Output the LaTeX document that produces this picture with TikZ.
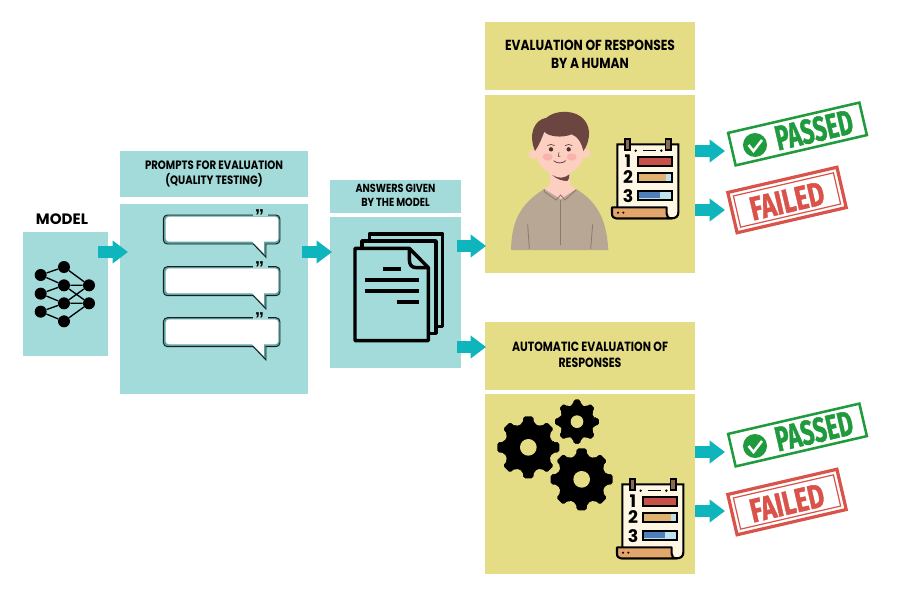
\documentclass[tikz,border=0pt]{standalone}
\usepackage{fontspec}
\usepackage{graphicx}
\setmainfont{Poppins}
\newfontfamily\stampfont{Fira Sans}[BoldFeatures={FakeBold=1.5}]
\newfontfamily\quotefont{Liberation Sans}
\usetikzlibrary{arrows.meta}
\definecolor{tealbox}{HTML}{A2DBD9}
\definecolor{tealdark}{HTML}{5FA3A3}
\definecolor{arrowteal}{HTML}{0FB5BD}
\definecolor{yelbox}{HTML}{E5DD85}
\definecolor{stampgreen}{HTML}{1F9A3C}
\definecolor{stampred}{HTML}{D9534A}
\definecolor{shirt}{HTML}{B7A794}
\definecolor{skin}{HTML}{FCCFC0}
\definecolor{cheek}{HTML}{F8B4AC}
\definecolor{hair}{HTML}{6B4540}
\definecolor{cream}{HTML}{FDF7E3}
\definecolor{clip}{HTML}{8A6A50}
\definecolor{rollbar}{HTML}{E2A56B}
\definecolor{barred}{HTML}{C8504B}
\definecolor{bartan}{HTML}{DFB36F}
\definecolor{barblue}{HTML}{4F7FB8}
\definecolor{barlight}{HTML}{BFE3EE}
\tikzset{
  tbox/.style={fill=tealbox,inner sep=0pt,align=center,font=\bfseries},
  ybox/.style={fill=yelbox,inner sep=0pt,align=center,font=\bfseries},
  blockarrow/.style={draw=arrowteal,line width=8.3pt,-{Triangle[length=11.5pt,width=16.5pt]},shorten >=0pt},
  netnode/.style={circle,fill=black,inner sep=0pt,minimum size=9pt},
  netedge/.style={line width=1pt,black},
  docline/.style={line width=2.4pt,black},
  stampbox/.style={draw,rotate=13,inner sep=0pt},
  stamptext/.style={rotate=13,font=\stampfont\bfseries,inner sep=0pt},
  digit/.style={font=\bfseries\fontsize{13}{13}\selectfont,inner sep=0pt},
}
\newcommand{\hdr}[2]{\resizebox{\dimexpr #1pt*3/4\relax}{!}{#2}}
\newcommand{\hdrr}[4]{\resizebox*{\dimexpr #1pt*3/4\relax}{\dimexpr #2pt*3/4\relax}{\begin{tabular}{@{}c@{}}#3\\#4\end{tabular}}}
\newcommand{\bubbleicon}[2]{%
  \begin{scope}[shift={(0,140+#1/3)},scale=1/3]
    \path[fill=tealdark,draw=black!85!tealbox,line width=0.7pt,rounded corners=3pt]
      (490,225) -- (840,225) -- (840,312) [sharp corners] -- (798,312) -- (798,352) -- (760,312) [rounded corners=3pt] -- (490,312) -- cycle;
    \path[fill=white,rounded corners=2.5pt]
      (497,230) -- (835,230) -- (835,305) [sharp corners] -- (792,305) -- (792,340) -- (757,305) [rounded corners=2.5pt] -- (497,305) -- cycle;
    \draw[tealbox,line width=1.5pt] (760,225) -- (805,225);
    \node[inner sep=0pt,font=\quotefont\bfseries\fontsize{14}{14}\selectfont] (#2) at (779,229) {”};
  \end{scope}}
\newcommand{\checklist}[3]{%
  \begin{scope}[shift={(#1,#2)},scale=1/3]
    \draw[fill=cream,line width=1.6pt] (382,148) -- (565,148) -- (565,352) .. controls (565,364) and (557,370) .. (545,370) -- (382,370) -- cycle;
    \draw[fill=clip,line width=1pt] (405,132) rectangle (420,165);
    \draw[fill=clip,line width=1pt] (527,132) rectangle (543,165);
    \draw[line width=1.1pt] (458,167) -- (497,167);
    \fill (437,167) circle (4); \fill (514,167) circle (4);
    \draw[fill=rollbar,line width=1.6pt,line join=round] (366,337) -- (530,337) -- (530,356) .. controls (530,365) and (535,370) .. (545,370) -- (378,370) .. controls (370,370) and (366,365) .. (366,355) -- cycle;
    \fill (384,353) circle (3.5); \fill (400,353) circle (3.5);
    \node[digit] (#3a) at (414,200) {1};
    \node[digit] (#3b) at (414,247) {2};
    \node[digit] (#3c) at (414,302) {3};
    \draw[fill=barred,line width=1.4pt] (443,185) rectangle (546,212);
    \draw[fill=barlight,line width=1.4pt] (443,234) rectangle (546,262);
    \fill[bartan] (447,238) rectangle (527,258);
    \draw[fill=barlight,line width=1.4pt] (443,287) rectangle (546,314);
    \fill[barblue] (447,291) rectangle (510,310);
  \end{scope}}
\newcommand{\gearicon}[4]{%
  \filldraw[fill=black,draw=yelbox,line width=1.2pt,rounded corners=1.5pt]
    ([shift={(#1,#2)}]-15:#3*0.78)
    foreach \a in {0,45,...,315} {
      -- ([shift={(#1,#2)}]\a-15:#3*0.78)
      -- ([shift={(#1,#2)}]\a-10:#3)
      -- ([shift={(#1,#2)}]\a+10:#3)
      -- ([shift={(#1,#2)}]\a+15:#3*0.78)
    } -- cycle;
  \fill[yelbox] (#1,#2) circle (#4);}
\newcommand{\stamppass}[2]{%
  \begin{scope}[shift={(0,#1)}]
    \node[stampbox,stampgreen,line width=1.9pt,minimum width=101pt,minimum height=25pt] (#2box) at (797.5,134) {};
    \fill[stampgreen] (755,145) circle (12);
    \draw[white,line width=1.9pt] (748.5,145) -- (753.5,151) -- (762,140);
    \node[stamptext,text=stampgreen] (#2txt) at (814,130) {\scalebox{0.66}[1]{\fontsize{26}{26}\selectfont PASSED}};
  \end{scope}}
\newcommand{\stampfail}[2]{%
  \begin{scope}[shift={(0,#1)}]
    \node[stampbox,stampred,line width=2.4pt,minimum width=84pt,minimum height=31pt] (#2box) at (787,200) {};
    \node[stampbox,stampred,line width=0.9pt,minimum width=77pt,minimum height=24pt] (#2in) at (787,200) {};
    \node[stamptext,text=stampred] (#2txt) at (787,201) {\scalebox{0.75}[1]{\fontsize{25}{25}\selectfont FAILED}};
  \end{scope}}
\begin{document}
\begin{tikzpicture}[x=0.75pt,y=-0.75pt]
\fill[white] (0,0) rectangle (899,614);
\useasboundingbox (0,0) rectangle (899,614);
% boxes
\node[tbox,minimum width=85*0.75pt,minimum height=124*0.75pt] (model) at (65.5,294) {};
\node[inner sep=0pt,font=\bfseries] (modeltxt) at (62,219.5) {\hdr{52}{MODEL}};
\node[tbox,minimum width=188*0.75pt,minimum height=46*0.75pt] (prompthdr) at (214,174) {\hdrr{138}{30}{PROMPTS FOR EVALUATION}{(QUALITY TESTING)}};
\node[tbox,minimum width=188*0.75pt,minimum height=190*0.75pt] (prompt) at (214,299) {};
\node[tbox,minimum width=131*0.75pt,minimum height=33*0.75pt] (anshdr) at (395.5,196.5) {\hdrr{80}{28}{ANSWERS GIVEN}{BY THE MODEL}};
\node[tbox,minimum width=131*0.75pt,minimum height=151*0.75pt] (ans) at (395.5,292.5) {};
\node[ybox,minimum width=210*0.75pt,minimum height=68*0.75pt] (humanhdr) at (590,56) {\hdrr{170}{35}{EVALUATION OF RESPONSES}{BY A HUMAN}};
\node[ybox,minimum width=210*0.75pt,minimum height=178*0.75pt] (human) at (590,184) {};
\node[ybox,minimum width=210*0.75pt,minimum height=68*0.75pt] (autohdr) at (590,356) {\hdrr{156}{32}{AUTOMATIC EVALUATION OF}{RESPONSES}};
\node[ybox,minimum width=210*0.75pt,minimum height=180*0.75pt] (auto) at (590,484) {};
% network
\begin{scope}[shift={(0,140)},scale=1/3]
  \node[netnode] (l1) at (122,405) {};
  \node[netnode] (l2) at (122,461) {};
  \node[netnode] (l3) at (122,515) {};
  \node[netnode] (m1) at (192,381) {};
  \node[netnode] (m2) at (192,436) {};
  \node[netnode] (m3) at (192,490) {};
  \node[netnode] (m4) at (192,544) {};
  \node[netnode] (r1) at (267,436) {};
  \node[netnode] (r2) at (267,490) {};
  \draw[netedge] (l1)--(m1) (l1)--(m2) (l2)--(m2) (l2)--(m3) (l3)--(m3) (l3)--(m4)
    (m1)--(r1) (m2)--(r1) (m2)--(r2) (m3)--(r1) (m3)--(r2) (m4)--(r2);
\end{scope}
% bubbles
\bubbleicon{0}{q1}
\bubbleicon{155}{q2}
\bubbleicon{308}{q3}
% documents
\begin{scope}[shift={(320,170)},scale=1/3]
  \draw[line width=2.6pt,fill=tealbox,line join=round] (148,192) rectangle (368,470);
  \draw[line width=2.6pt,fill=tealbox,line join=round] (126,213) rectangle (348,490);
  \draw[line width=2.6pt,fill=tealbox,line join=round] (105,235) -- (268,235) -- (325,293) -- (325,512) -- (105,512) -- cycle;
  \draw[line width=2.6pt,line join=round] (268,235) -- (268,268) .. controls (268,285) and (275,293) .. (290,293) -- (325,293);
  \draw[docline] (190,297) -- (243,297);
  \draw[docline] (135,330) -- (297,330);
  \draw[docline] (135,363) -- (297,363);
  \draw[docline] (232,396) -- (297,396);
\end{scope}
% person
\begin{scope}[shift={(490,95)},scale=1/3]
  \fill[shirt] (63,465) .. controls (65,385) and (85,330) .. (163,282) -- (258,282) .. controls (330,325) and (350,385) .. (355,465) -- cycle;
  \fill[skin] (180,220) -- (240,220) -- (240,270) -- (258,282) -- (212,312) -- (163,282) -- (180,270) -- cycle;
  \fill[hair] (187,240) .. controls (205,252) and (225,250) .. (238,238) .. controls (238,250) and (235,255) .. (232,258) .. controls (215,258) and (200,252) .. (187,240) -- cycle;
  \fill[skin] (130,178) circle (14);
  \fill[skin] (288,175) circle (14);
  \fill[skin] (210,165) ellipse (73 and 76);
  \fill[cheek] (173,186) ellipse (15 and 11);
  \fill[cheek] (245,186) ellipse (15 and 11);
  \fill[hair] (135,168) .. controls (115,120) and (130,75) .. (170,68) .. controls (200,40) and (290,40) .. (297,110) .. controls (298,135) and (290,155) .. (280,168) .. controls (275,145) and (265,125) .. (245,118) .. controls (215,130) and (175,125) .. (163,110) .. controls (155,130) and (148,150) .. (135,168) -- cycle;
  \fill[hair!70!black] (183,163) circle (6.5);
  \fill[hair!70!black] (236,163) circle (6.5);
  \draw[hair,line width=0.5pt] (172,152) .. controls (178,147) and (188,147) .. (194,152);
  \draw[hair,line width=0.5pt] (225,152) .. controls (231,147) and (241,147) .. (247,152);
  \draw[hair,line width=0.5pt] (207,172) -- (205,184) -- (211,184);
  \draw[hair,line width=0.6pt] (191,197) .. controls (200,206) and (218,206) .. (227,197);
  \draw[hair!50!shirt,line width=0.6pt] (163,282) -- (163,290) -- (198,315) -- (212,300) -- (225,315) -- (258,285);
  \draw[hair!50!shirt,line width=0.6pt] (212,315) -- (212,450);
  \draw[hair!50!shirt,line width=0.6pt] (113,388) -- (118,462);
  \draw[hair!50!shirt,line width=0.6pt] (308,388) -- (302,462);
\end{scope}
\checklist{490}{95}{ca}
% gears
\begin{scope}[shift={(485,390)},scale=1/3]
  \gearicon{130}{172}{97}{25}
  \gearicon{276}{95}{70}{19}
  \gearicon{290}{268}{97}{25}
\end{scope}
\checklist{495}{435}{cb}
% stamps
\stamppass{0}{pa}
\stampfail{0}{fa}
\stamppass{301}{pb}
\stampfail{302}{fb}
% arrows
\coordinate (a1s) at (98,252);  \coordinate (a1e) at (128,252);
\coordinate (a2s) at (302,252); \coordinate (a2e) at (332,252);
\coordinate (a3s) at (457,246); \coordinate (a3e) at (486,246);
\coordinate (a4s) at (457,347); \coordinate (a4e) at (486,347);
\coordinate (a5s) at (695,151); \coordinate (a5e) at (725,151);
\coordinate (a6s) at (695,210); \coordinate (a6e) at (725,210);
\coordinate (a7s) at (695,452); \coordinate (a7e) at (725,452);
\coordinate (a8s) at (695,511); \coordinate (a8e) at (725,511);
\foreach \i in {1,...,8} \draw[blockarrow] (a\i s) -- (a\i e);
\end{tikzpicture}
\end{document}
